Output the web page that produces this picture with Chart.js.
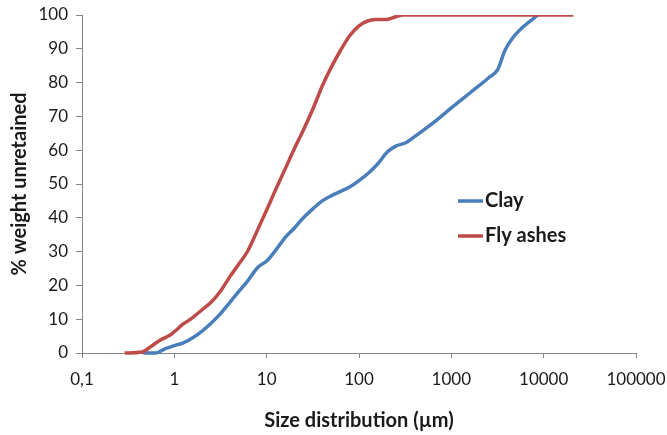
<!DOCTYPE html>
<html>
<head>
<meta charset="utf-8">
<script src="https://cdn.jsdelivr.net/npm/chart.js@4"></script>
<style>
  body { margin: 0; background: #fff; }
  #wrap { width: 667px; height: 435px; }
</style>
</head>
<body>
<div id="wrap"><canvas id="psd" width="667" height="435"></canvas></div>
<script>
// particle size (um) and % passing
const claySize = [0.46, 0.63, 0.8, 1.0, 1.25, 1.6, 2.0, 2.5, 3.2, 4.0, 5.0, 6.3, 8, 10, 12.6, 16, 20, 25, 32, 40, 50, 63, 80, 100, 126, 160, 200, 250, 320, 400, 630, 1000, 1600, 2500, 3200, 3800, 4700, 6000, 8700];
const clayPct = [0, 0, 1.3, 2.2, 3.0, 4.6, 6.5, 8.8, 11.8, 15.0, 18.2, 21.5, 25.3, 27.2, 30.5, 34.3, 37.0, 40.0, 42.8, 45.0, 46.5, 47.8, 49.2, 51.0, 53.2, 56.0, 59.3, 61.2, 62.2, 64.0, 68.0, 72.5, 77.0, 81.3, 84.0, 89.5, 93.5, 96.5, 100];

const ashSize = [0.29, 0.45, 0.55, 0.7, 0.9, 1.0, 1.25, 1.5, 2.0, 2.5, 3.2, 4.0, 5.0, 6.3, 8, 10, 12.6, 16, 20, 25, 32, 40, 50, 63, 80, 100, 126, 160, 200, 250, 300, 21000];
const ashPct = [0, 0.3, 1.8, 3.8, 5.3, 6.3, 8.6, 10, 12.8, 15, 18.5, 22.6, 26.3, 30.4, 36.5, 42.3, 48.5, 54.7, 60.5, 66.0, 72.5, 79.0, 84.5, 89.5, 94.0, 96.8, 98.3, 98.7, 98.7, 99.5, 100, 100];

const xTickValues = [0.1, 1, 10, 100, 1000, 10000, 100000];
const xTickLabels = ['0,1', '1', '10', '100', '1000', '10000', '100000'];

const seriesNames = ['Clay', 'Fly ashes'];
const seriesColors = ['#4A7EBB', '#BE4B48'];

const axisGray = '#868686';
const textColor = '#1a1a1a';

Chart.defaults.font.family = 'Lato';
Chart.defaults.color = textColor;

function toPoints(xs, ys) {
  return xs.map((x, i) => ({x: x, y: ys[i]}));
}

// legend sits inside the plot area, Excel style
const insideLegend = {
  id: 'insideLegend',
  afterDraw(chart) {
    const ctx = chart.ctx;
    const x0 = 458, rows = [201, 236];
    ctx.save();
    chart.data.datasets.forEach((ds, i) => {
      const y = rows[i];
      ctx.strokeStyle = ds.borderColor;
      ctx.lineWidth = 3.5;
      ctx.beginPath();
      ctx.moveTo(x0, y);
      ctx.lineTo(x0 + 25, y);
      ctx.stroke();
      ctx.fillStyle = textColor;
      ctx.font = 'bold 20px Lato';
      ctx.textBaseline = 'middle';
      ctx.textAlign = 'left';
      ctx.fillText(ds.label, x0 + 27, y);
    });
    ctx.restore();
  }
};

const config = {
  type: 'line',
  data: {
    datasets: [
      {
        label: seriesNames[0],
        data: toPoints(claySize, clayPct),
        borderColor: seriesColors[0],
        backgroundColor: seriesColors[0],
        borderWidth: 3.5,
        pointRadius: 0,
        cubicInterpolationMode: 'monotone',
        fill: false,
        order: 1,
        clip: {left: 5, right: 5, top: 0, bottom: 5}
      },
      {
        label: seriesNames[1],
        data: toPoints(ashSize, ashPct),
        borderColor: seriesColors[1],
        backgroundColor: seriesColors[1],
        borderWidth: 3.5,
        pointRadius: 0,
        cubicInterpolationMode: 'monotone',
        fill: false,
        order: 0,
        clip: {left: 5, right: 5, top: 0, bottom: 5}
      }
    ]
  },
  options: {
    responsive: false,
    animation: false,
    layout: {padding: {top: 15, right: 31, bottom: 0, left: 0}},
    plugins: {
      legend: {display: false},
      tooltip: {enabled: false}
    },
    scales: {
      x: {
        type: 'logarithmic',
        min: 0.1,
        max: 100000,
        afterBuildTicks: scale => {
          scale.ticks = xTickValues.map(v => ({value: v}));
        },
        afterFit: scale => {
          scale.height = 82;
          scale.paddingLeft = 0;
          scale.paddingRight = 0;
        },
        ticks: {
          autoSkip: false,
          maxRotation: 0,
          padding: 11,
          font: {size: 17},
          callback: (value) => xTickLabels[xTickValues.indexOf(value)]
        },
        grid: {drawOnChartArea: false, tickLength: 5, color: axisGray},
        border: {color: axisGray, width: 1},
        title: {
          display: true,
          text: 'Size distribution (\u00b5m)',
          font: {size: 20, weight: 'bold'},
          padding: {top: 0, bottom: 2}
        }
      },
      y: {
        min: 0,
        max: 100,
        afterFit: scale => {
          scale.width = 82;
          scale.paddingTop = 0;
          scale.paddingBottom = 0;
        },
        ticks: {stepSize: 10, padding: 8, font: {size: 17}},
        grid: {drawOnChartArea: false, tickLength: 6, color: axisGray},
        border: {color: axisGray, width: 1},
        title: {
          display: true,
          text: '% weight unretained',
          font: {size: 20, weight: 'bold'},
          padding: {top: 8, bottom: 0}
        }
      }
    }
  },
  plugins: [insideLegend]
};

new Chart(document.getElementById('psd'), config);
</script>
</body>
</html>
